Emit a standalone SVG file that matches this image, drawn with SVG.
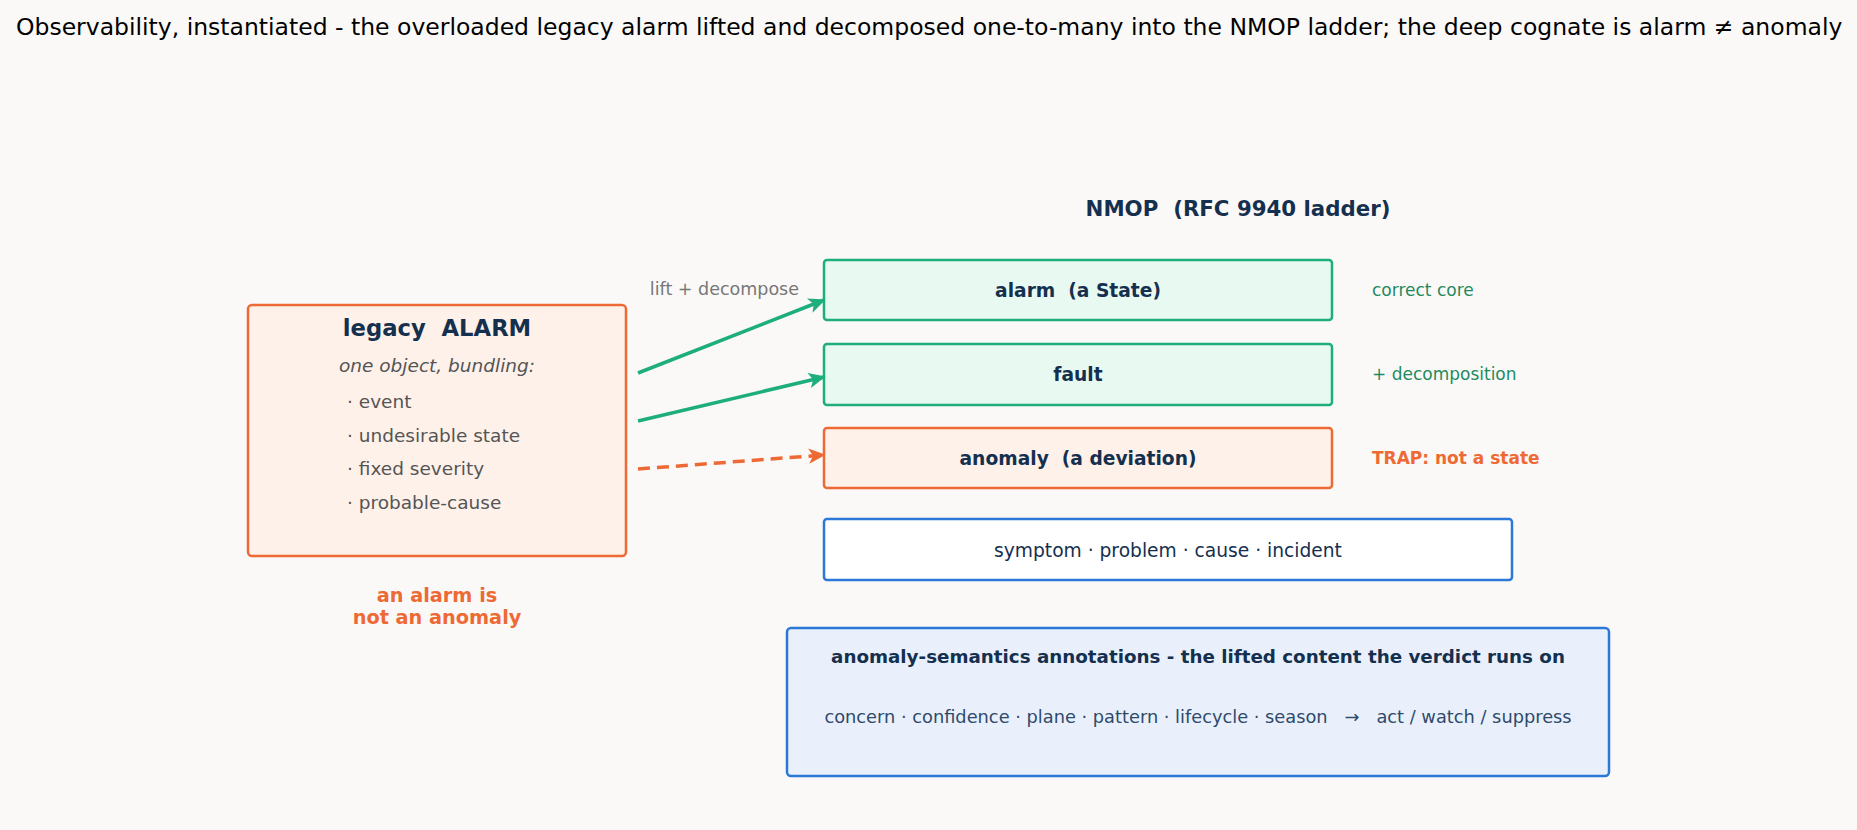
<svg xmlns="http://www.w3.org/2000/svg" width="1857" height="830" viewBox="0 0 1857 830">
<defs>
<style>
text{font-family:"DejaVu Sans","Noto Sans",sans-serif;white-space:pre;}
.navy{fill:#15304f;}
.b{font-weight:bold;}
.box-g{fill:#e8f9f1;stroke:#1eae7d;stroke-width:2.5;}
.box-o{fill:#fef1ea;stroke:#ee6a35;stroke-width:2.5;}
.box-b{fill:#ffffff;stroke:#2b78d6;stroke-width:2.5;}
.box-bl{fill:#e9f0fb;stroke:#2b78d6;stroke-width:2.5;}
.bul{fill:#555555;font-size:18.5px;}
.cg{fill:#1f8a5f;font-size:17px;}
</style>
<marker id="ag" viewBox="0 0 10 10" refX="9" refY="5" markerWidth="17" markerHeight="17" markerUnits="userSpaceOnUse" orient="auto"><path d="M0,0.5 L10,5 L0,9.5 L2.5,5 z" fill="#1eae7d"/></marker>
<marker id="ao" viewBox="0 0 10 10" refX="9" refY="5" markerWidth="17" markerHeight="17" markerUnits="userSpaceOnUse" orient="auto"><path d="M0,0.5 L10,5 L0,9.5 L2.5,5 z" fill="#ee6a35"/></marker>
</defs>
<rect x="0" y="0" width="1857" height="830" fill="#faf9f8"/>
<text x="16" y="35" font-size="23.5" fill="#000">Observability, instantiated - the overloaded legacy alarm lifted and decomposed one-to-many into the NMOP ladder; the deep cognate is alarm ≠ anomaly</text>

<g id="legacy">
<rect x="248" y="305" width="378" height="251" rx="4" class="box-o" stroke-width="3"/>
<text x="437" y="336" text-anchor="middle" class="navy b" font-size="22.7">legacy  ALARM</text>
<text x="437" y="372" text-anchor="middle" font-size="18.5" font-style="italic" fill="#555555">one object, bundling:</text>
<text x="347" y="408" class="bul">· event</text>
<text x="347" y="442" class="bul">· undesirable state</text>
<text x="347" y="475" class="bul">· fixed severity</text>
<text x="347" y="509" class="bul">· probable-cause</text>
</g>
<g id="note">
<text x="437" y="602" text-anchor="middle" class="b" font-size="19.3" fill="#ee6a35">an alarm is</text>
<text x="437" y="624" text-anchor="middle" class="b" font-size="19.3" fill="#ee6a35">not an anomaly</text>
</g>

<g id="nmop-title">
<text x="1238" y="216" text-anchor="middle" class="navy b" font-size="21.3">NMOP  (RFC 9940 ladder)</text>
</g>

<g id="alarm">
<rect x="824" y="260" width="508" height="60" rx="3" class="box-g"/>
<text x="1078" y="297" text-anchor="middle" class="navy b" font-size="18.67">alarm  (a State)</text>
<text x="1372" y="296" class="cg">correct core</text>
</g>
<g id="fault">
<rect x="824" y="344" width="508" height="61" rx="3" class="box-g"/>
<text x="1078" y="381" text-anchor="middle" class="navy b" font-size="18.67">fault</text>
<text x="1372" y="380" class="cg">+ decomposition</text>
</g>
<g id="anomaly">
<rect x="824" y="428" width="508" height="60" rx="3" class="box-o"/>
<text x="1078" y="465" text-anchor="middle" class="navy b" font-size="18.67">anomaly  (a deviation)</text>
<text x="1372" y="464" class="b" font-size="17" fill="#ee6a35">TRAP: not a state</text>
</g>
<g id="ladder">
<rect x="824" y="519" width="688" height="61" rx="3" class="box-b"/>
<text x="1168" y="557" text-anchor="middle" class="navy" font-size="18.67">symptom · problem · cause · incident</text>
</g>
<g id="annotations">
<rect x="787" y="628" width="822" height="148" rx="4" class="box-bl"/>
<text x="1198" y="663" text-anchor="middle" class="navy b" font-size="18.3">anomaly-semantics annotations - the lifted content the verdict runs on</text>
<text x="1198" y="723" text-anchor="middle" font-size="17.8" fill="#2f4a6b">concern · confidence · plane · pattern · lifecycle · season   →   act / watch / suppress</text>
</g>

<g id="connectors">
<text x="799" y="295" text-anchor="end" font-size="17.5" fill="#777777">lift + decompose</text>
<line x1="638" y1="373" x2="824" y2="300" stroke="#1eae7d" stroke-width="3.5" marker-end="url(#ag)"/>
<line x1="638" y1="421" x2="824" y2="377" stroke="#1eae7d" stroke-width="3.5" marker-end="url(#ag)"/>
<line x1="638" y1="469" x2="824" y2="455" stroke="#ee6a35" stroke-width="3.5" stroke-dasharray="12,7" marker-end="url(#ao)"/>
</g>
</svg>
